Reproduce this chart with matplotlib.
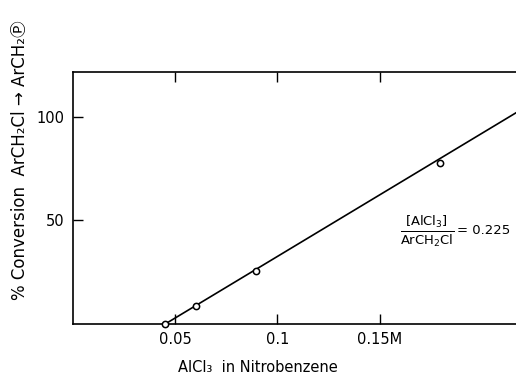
import numpy as np
import matplotlib
matplotlib.use('Agg')
import matplotlib.pyplot as plt

plt.rcParams['font.family'] = ['DejaVu Sans', 'Noto Sans CJK JP']

# AlCl3 concentration (M) vs % conversion
conc = [0.0451, 0.0603, 0.0897, 0.1794]
conversion = [0.0, 8.7, 25.6, 77.8]

# straight line drawn through the points
line_x = [0.0451, 0.2167]
line_y = [0.0, 102.0]

xticks = [0.05, 0.1, 0.15]
xtick_labels = ['0.05', '0.1', '0.15M']
yticks = [50, 100]
ytick_labels = ['50', '100']

fig = plt.figure(figsize=(5.16, 3.79), dpi=100)
ax = fig.add_axes([73/516, 55/379, 1 - 73/516, 252/379])

ax.plot(line_x, line_y, color='black', lw=1.2, clip_on=False)
ax.plot(conc, conversion, 'o', ms=4.5, mfc='white', mec='black', mew=1.1,
        clip_on=False, zorder=3)

ax.set_xlim(0, 0.2167)
ax.set_ylim(0, 121.7)
ax.spines['right'].set_visible(False)
for s in ['left', 'top', 'bottom']:
    ax.spines[s].set_linewidth(1.2)

ax.set_xticks(xticks)
ax.set_xticklabels(xtick_labels)
ax.set_yticks(yticks)
ax.set_yticklabels(ytick_labels)
ax.tick_params(axis='both', direction='in', length=7, width=1, labelsize=10.5, pad=6)
ax.tick_params(axis='x', top=True)

# labels placed in figure pixels to follow the original scan
fig.text(258/516, 1 - 368/379, 'AlCl\u2083  in Nitrobenzene', fontsize=10.5,
         ha='center', va='center')
fig.text(20/516, 1 - 160/379, '% Conversion  ArCH\u2082Cl \u2192 ArCH\u2082\u24c5',
         fontsize=12, rotation=90, ha='center', va='center',
         family=['DejaVu Sans', 'Noto Sans CJK JP'])

fig.text(427/516, 1 - 231/379, r'$\frac{[\mathrm{AlCl_3}]}{\mathrm{ArCH_2Cl}}$',
         fontsize=13.5, ha='center', va='center')
fig.text(457/516, 1 - 230/379, '= 0.225', fontsize=9.5, ha='left', va='center')

fig.savefig('out.png', dpi=100)
